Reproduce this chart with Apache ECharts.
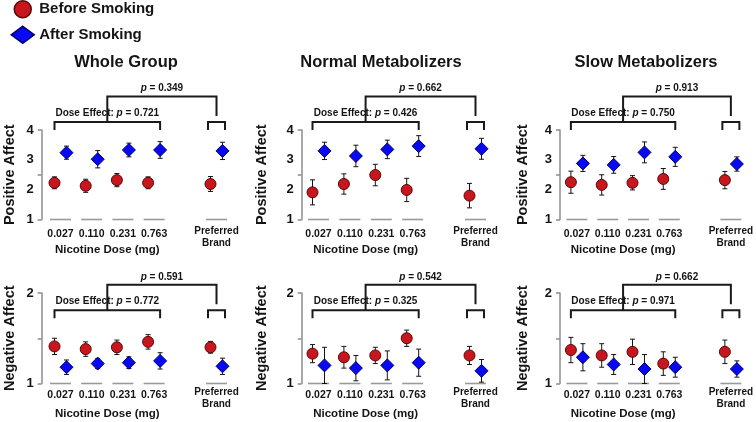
<!DOCTYPE html>
<html>
<head>
<meta charset="utf-8">
<script src="https://cdn.jsdelivr.net/npm/echarts@6/dist/echarts.min.js"></script>
<style>
  html, body { margin: 0; padding: 0; background: #fff; }
  #chart { width: 756px; height: 422px; }
</style>
</head>
<body>
<div id="chart"></div>
<script>
// categories of the x axis (slot 4 is an empty gap before the preferred brand)
var categories = ['0.027', '0.110', '0.231', '0.763', '', 'Preferred Brand'];
var conditionSlots = [0, 1, 2, 3, 5];

var panelTitles = ['Whole Group', 'Normal Metabolizers', 'Slow Metabolizers'];
var rowNames = ['Positive Affect', 'Negative Affect'];

// one row per panel: whole group, normal, slow
// values in order 0.027, 0.110, 0.231, 0.763, preferred brand
var posBeforeMean = [
  [2.23, 2.13, 2.32, 2.23, 2.19],
  [1.91, 2.19, 2.49, 1.99, 1.80],
  [2.25, 2.16, 2.23, 2.36, 2.32]
];
var posBeforeErr = [
  [0.20, 0.22, 0.22, 0.20, 0.25],
  [0.42, 0.34, 0.36, 0.39, 0.41],
  [0.37, 0.34, 0.24, 0.35, 0.29]
];
var posAfterMean = [
  [3.24, 3.02, 3.33, 3.33, 3.30],
  [3.30, 3.13, 3.35, 3.46, 3.37],
  [2.88, 2.83, 3.25, 3.10, 2.86]
];
var posAfterErr = [
  [0.22, 0.29, 0.23, 0.28, 0.29],
  [0.29, 0.36, 0.31, 0.35, 0.35],
  [0.27, 0.28, 0.35, 0.32, 0.24]
];
var negBeforeMean = [
  [1.41, 1.38, 1.40, 1.46, 1.40],
  [1.33, 1.29, 1.31, 1.50, 1.31],
  [1.37, 1.31, 1.35, 1.22, 1.35]
];
var negBeforeErr = [
  [0.09, 0.08, 0.08, 0.08, 0.065],
  [0.10, 0.12, 0.09, 0.09, 0.10],
  [0.14, 0.13, 0.14, 0.13, 0.13]
];
var negAfterMean = [
  [1.18, 1.22, 1.23, 1.25, 1.19],
  [1.20, 1.17, 1.20, 1.23, 1.14],
  [1.29, 1.21, 1.16, 1.18, 1.16]
];
var negAfterErr = [
  [0.08, 0.055, 0.065, 0.09, 0.09],
  [0.20, 0.14, 0.16, 0.15, 0.125],
  [0.15, 0.11, 0.16, 0.11, 0.09]
];

var doseP = [['0.721', '0.426', '0.750'], ['0.772', '0.325', '0.971']];
var brandP = [['0.349', '0.662', '0.913'], ['0.591', '0.542', '0.662']];

var FONT = '"Liberation Sans", Arial, sans-serif';
var INK = '#141414';
var RED = '#c8161e', RED_EDGE = '#5a0606';
var BLUE = '#0808f2', BLUE_EDGE = '#000066';

var rows = [
  { top: 130, height: 89.5, min: 1, max: 4, tickStep: 1.5, bracketBase: 4, labelMargin: 5.5,
    before: posBeforeMean, beforeErr: posBeforeErr, after: posAfterMean, afterErr: posAfterErr },
  { top: 293, height: 90.5, min: 1, max: 2, tickStep: 0.5, bracketBase: 1.72, labelMargin: 3,
    before: negBeforeMean, beforeErr: negBeforeErr, after: negAfterMean, afterErr: negAfterErr }
];
var cols = [
  { left: 44.9, width: 187.2, offset: 3.2, nameGap: 24.5, titleX: 126 },
  { left: 302.8, width: 188.4, offset: 1.1, nameGap: 32.5, titleX: 381 },
  { left: 561.5, width: 186, offset: 1.5, nameGap: 29.5, titleX: 646 }
];

function errorBarItem(dx) {
  return function (params, api) {
    var lo = api.coord([api.value(0), api.value(1)]);
    var hi = api.coord([api.value(0), api.value(2)]);
    var x = lo[0] + dx;
    var st = { stroke: INK, lineWidth: 1 };
    return { type: 'group', children: [
      { type: 'line', shape: { x1: x, y1: lo[1], x2: x, y2: hi[1] }, style: st },
      { type: 'line', shape: { x1: x - 2.5, y1: lo[1], x2: x + 2.5, y2: lo[1] }, style: st },
      { type: 'line', shape: { x1: x - 2.5, y1: hi[1], x2: x + 2.5, y2: hi[1] }, style: st }
    ] };
  };
}

function baselineItem(params, api) {
  var p = api.coord([api.value(0), api.value(1)]);
  return { type: 'line', shape: { x1: p[0] - 10.5, y1: p[1], x2: p[0] + 10.5, y2: p[1] },
    style: { stroke: '#9a9a9a', lineWidth: 1.6 } };
}

function annotationItem(row, r, c) {
  return function (params, api) {
    var base = api.coord([0, row.bracketBase])[1];
    var bottom = api.coord([0, row.min])[1];
    var xL = api.coord([0, row.min])[0] - 6;
    var xR = api.coord([3, row.min])[0] + 6;
    var xB = api.coord([5, row.min])[0];
    var top = base - 8, big = top - 25.5, xM = (xL + xR) / 2;
    var ln = { stroke: '#1a1a1a', lineWidth: 2, fill: null };
    var rich = {
      n: { fontFamily: FONT, fontWeight: 'bold', fontSize: 10, fill: INK },
      i: { fontFamily: FONT, fontWeight: 'bold', fontStyle: 'italic', fontSize: 10, fill: INK }
    };
    return { type: 'group', children: [
      { type: 'polyline', shape: { points: [[xL, base], [xL, top], [xR, top], [xR, base]] }, style: ln },
      { type: 'polyline', shape: { points: [[xB - 8.5, base], [xB - 8.5, top], [xB + 8.5, top], [xB + 8.5, base]] }, style: ln },
      { type: 'polyline', shape: { points: [[xM, top], [xM, big], [xB, big], [xB, top - 6]] }, style: ln },
      { type: 'text', style: { x: xM, y: top - 9, align: 'center', verticalAlign: 'middle',
        text: '{n|Dose Effect: }{i|p}{n| = ' + doseP[r][c] + '}', rich: rich } },
      { type: 'text', style: { x: (xM + xB) / 2, y: big - 8, align: 'center', verticalAlign: 'middle',
        text: '{i|p}{n| = ' + brandP[r][c] + '}', rich: rich } },
      { type: 'text', style: { x: (xL + xR) / 2, y: bottom + 30, align: 'center', verticalAlign: 'middle',
        text: 'Nicotine Dose (mg)', font: 'bold 11.5px ' + FONT, fill: INK } }
    ] };
  };
}

var grids = [], xAxes = [], yAxes = [], series = [];
rows.forEach(function (row, r) {
  cols.forEach(function (col, c) {
    var g = r * 3 + c;
    grids.push({ left: col.left, top: row.top, width: col.width, height: row.height });
    xAxes.push({
      type: 'category', gridIndex: g, data: categories,
      axisLine: { show: false }, axisTick: { show: false }, splitLine: { show: false },
      axisLabel: {
        interval: 0, margin: row.labelMargin, color: INK, fontFamily: FONT,
        fontWeight: 'bold', fontSize: 10.5, lineHeight: 18,
        formatter: function (v) { return v === 'Preferred Brand' ? '{p|Preferred}\n{p|Brand}' : v; },
        rich: { p: { fontFamily: FONT, fontWeight: 'bold', fontSize: 10, lineHeight: 12, color: INK } }
      }
    });
    yAxes.push({
      type: 'value', gridIndex: g, position: 'left', offset: col.offset,
      min: row.min, max: row.max, interval: 1,
      axisLine: { show: false }, axisTick: { show: false }, splitLine: { show: false },
      axisLabel: { margin: 8, color: INK, fontFamily: FONT, fontWeight: 'bold', fontSize: 13 },
      name: rowNames[r], nameLocation: 'middle', nameGap: col.nameGap,
      nameTextStyle: { color: INK, fontFamily: FONT, fontWeight: 'bold', fontSize: 14.5 }
    });
    // second axis only for the tick marks (at min, middle and max)
    yAxes.push({
      type: 'value', gridIndex: g, position: 'left', offset: col.offset,
      min: 0, max: row.max - row.min, interval: row.tickStep,
      axisLine: { show: true, lineStyle: { color: '#8c8c8c', width: 1.5 } },
      axisTick: { show: true, length: 4, lineStyle: { color: '#8c8c8c', width: 1.5 } },
      axisLabel: { show: false }, splitLine: { show: false }
    });

    series.push({
      type: 'custom', xAxisIndex: g, yAxisIndex: 2 * g, z: 1, silent: true,
      renderItem: baselineItem,
      data: conditionSlots.map(function (s) { return [s, row.min]; })
    });
    series.push({
      type: 'custom', xAxisIndex: g, yAxisIndex: 2 * g, z: 1, silent: true,
      renderItem: annotationItem(row, r, c), data: [[0]]
    });
    series.push({
      type: 'custom', xAxisIndex: g, yAxisIndex: 2 * g, z: 2, silent: true,
      renderItem: errorBarItem(-6),
      data: conditionSlots.map(function (s, i) {
        return [s, row.before[c][i] - row.beforeErr[c][i], row.before[c][i] + row.beforeErr[c][i]];
      })
    });
    series.push({
      type: 'custom', xAxisIndex: g, yAxisIndex: 2 * g, z: 2, silent: true,
      renderItem: errorBarItem(6),
      data: conditionSlots.map(function (s, i) {
        return [s, row.after[c][i] - row.afterErr[c][i], row.after[c][i] + row.afterErr[c][i]];
      })
    });
    series.push({
      name: 'Before Smoking', type: 'scatter', xAxisIndex: g, yAxisIndex: 2 * g, z: 3,
      symbol: 'circle', symbolSize: 11, symbolOffset: [-6, 0],
      itemStyle: { color: RED, borderColor: RED_EDGE, borderWidth: 1, opacity: 1 },
      data: conditionSlots.map(function (s, i) { return [s, row.before[c][i]]; })
    });
    series.push({
      name: 'After Smoking', type: 'scatter', xAxisIndex: g, yAxisIndex: 2 * g, z: 3,
      symbol: 'diamond', symbolSize: 13, symbolOffset: [6, 0],
      itemStyle: { color: BLUE, borderColor: BLUE_EDGE, borderWidth: 1, opacity: 1 },
      data: conditionSlots.map(function (s, i) { return [s, row.after[c][i]]; })
    });
  });
});

var chart = echarts.init(document.getElementById('chart'));
chart.setOption({
  animation: false,
  backgroundColor: '#fff',
  legend: {
    orient: 'vertical', left: 10.5, top: 0, padding: 0,
    itemWidth: 23, itemHeight: 17, itemGap: 7, selectedMode: false,
    textStyle: { color: INK, fontFamily: FONT, fontWeight: 'bold', fontSize: 15 },
    data: [
      { name: 'Before Smoking', icon: 'circle', itemStyle: { color: RED, borderColor: RED_EDGE, borderWidth: 1.5 } },
      { name: 'After Smoking', icon: 'diamond', itemStyle: { color: BLUE, borderColor: BLUE_EDGE, borderWidth: 1.5 } }
    ]
  },
  graphic: cols.map(function (col, c) {
    return {
      type: 'text', x: col.titleX, y: 62, silent: true,
      style: { text: panelTitles[c], align: 'center', verticalAlign: 'middle',
        textAlign: 'center', textVerticalAlign: 'middle',
        font: 'bold 16.5px ' + FONT, fill: INK }
    };
  }),
  grid: grids,
  xAxis: xAxes,
  yAxis: yAxes,
  series: series
});
</script>
</body>
</html>
